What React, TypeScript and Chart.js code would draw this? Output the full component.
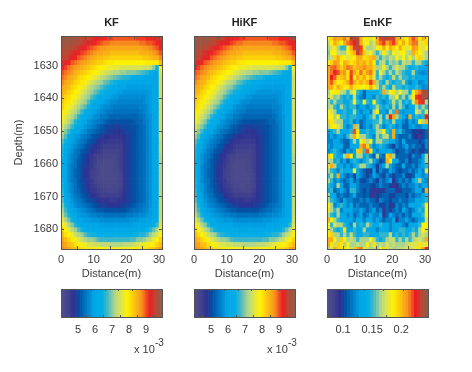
import React, { useEffect, useRef } from "react";
import { Chart, registerables } from "chart.js";
Chart.register(...registerables);

const distances = [0.5,1.5,2.5,3.5,4.5,5.5,6.5,7.5,8.5,9.5,10.5,11.5,12.5,13.5,14.5,15.5,16.5,17.5,18.5,19.5,20.5,21.5,22.5,23.5,24.5,25.5,26.5,27.5,28.5,29.5,30.5];
const depths = [1621.75,1623.25,1624.75,1626.25,1627.75,1629.25,1630.75,1632.25,1633.75,1635.25,1636.75,1638.25,1639.75,1641.25,1642.75,1644.25,1645.75,1647.25,1648.75,1650.25,1651.75,1653.25,1654.75,1656.25,1657.75,1659.25,1660.75,1662.25,1663.75,1665.25,1666.75,1668.25,1669.75,1671.25,1672.75,1674.25,1675.75,1677.25,1678.75,1680.25,1681.75,1683.25,1684.75,1686.25];
const distanceTicks = [0,10,20,30];
const depthTicks = [1630,1640,1650,1660,1670,1680];

// KF estimate, in units of 1e-4
const kfValues = [
[98,98,98,98,98,97,96,95,95,94,93,93,92,92,91,91,90,90,90,90,90,90,90,91,91,91,92,92,93,94,95],
[98,98,98,97,97,96,95,94,93,93,92,91,90,89,89,88,88,88,88,88,88,88,88,88,89,89,90,90,91,92,93],
[97,97,97,96,95,94,93,92,91,90,89,88,87,87,86,86,86,86,86,86,86,86,86,86,86,87,87,88,89,90,92],
[96,96,95,94,93,92,91,90,89,88,87,86,86,85,85,84,84,84,84,84,84,84,84,84,85,85,85,86,87,88,90],
[95,95,94,93,92,90,89,88,87,86,85,84,84,83,83,82,82,82,82,82,82,82,82,82,82,83,83,84,85,85,88],
[94,93,92,90,89,88,87,86,85,84,83,82,82,81,80,80,79,79,79,79,79,79,79,79,79,79,80,80,80,80,84],
[92,91,89,88,87,86,85,84,83,82,81,80,79,78,77,77,76,76,75,75,75,75,75,75,75,74,74,73,70,64,78],
[90,89,88,87,85,84,83,82,81,80,79,78,76,75,74,73,72,72,71,71,70,70,70,69,68,67,66,64,62,60,75],
[89,88,86,85,84,82,81,80,79,78,76,75,73,72,71,70,69,68,67,66,66,65,64,63,62,62,61,60,60,60,74],
[88,86,85,84,82,81,80,78,77,75,73,72,71,69,68,66,65,64,63,62,61,60,60,60,60,60,60,60,60,60,74],
[86,85,84,82,81,79,78,76,74,72,71,70,68,66,65,63,62,61,60,60,59,59,59,59,59,59,59,59,60,60,74],
[85,84,82,81,79,78,76,74,72,71,69,67,65,64,62,61,60,59,59,58,58,58,58,58,58,58,58,59,60,60,74],
[84,82,81,79,78,76,74,72,71,68,66,64,62,61,60,59,58,58,57,57,57,57,57,57,57,57,58,59,60,60,74],
[83,81,80,78,76,74,72,71,68,65,63,62,60,59,58,57,57,56,56,56,56,56,56,56,56,57,58,59,60,60,74],
[82,80,78,76,74,72,70,68,65,63,61,60,58,57,57,56,55,55,55,55,55,55,55,55,56,56,57,59,60,60,74],
[80,78,76,74,72,70,67,64,62,60,59,58,57,56,55,55,54,54,54,54,54,54,54,54,55,56,57,59,60,60,74],
[79,76,74,72,70,66,64,62,60,59,57,57,55,55,54,53,53,53,53,53,53,53,53,53,54,55,57,58,60,60,74],
[77,75,72,70,66,64,62,60,58,57,56,55,54,53,52,51,51,51,51,51,51,51,52,53,53,55,56,58,60,60,74],
[75,72,70,67,64,61,60,58,57,56,55,53,52,51,50,50,49,49,50,50,50,51,51,52,53,54,56,58,60,60,74],
[73,70,67,64,61,60,58,57,55,54,53,52,51,50,49,49,48,48,48,49,50,50,51,52,53,54,56,58,60,60,74],
[71,68,64,61,59,58,56,55,54,52,51,50,49,48,48,47,47,47,47,48,49,50,51,52,53,54,56,58,60,60,74],
[68,65,62,59,58,56,55,54,52,51,50,48,47,47,46,46,46,46,46,48,49,50,51,52,53,54,56,58,60,60,73],
[66,63,60,58,57,55,54,52,51,49,48,47,46,45,45,45,45,45,45,47,49,50,51,52,53,54,56,58,60,60,73],
[65,62,59,57,55,54,52,51,50,48,47,46,45,44,44,44,44,44,45,47,49,50,51,52,53,54,56,58,60,60,73],
[65,61,58,56,55,53,51,50,48,47,45,44,44,43,43,43,43,44,45,47,49,50,51,52,53,54,56,58,60,60,72],
[64,60,58,56,54,52,51,49,48,46,45,43,43,42,42,42,43,44,45,47,49,50,51,52,53,54,56,58,60,60,72],
[64,60,57,55,54,52,50,49,47,46,44,43,42,42,42,42,43,44,45,47,49,50,51,52,53,54,56,58,60,60,72],
[64,60,57,55,53,52,50,48,47,45,44,43,42,42,42,42,43,43,45,47,49,50,51,52,53,54,56,58,60,60,72],
[64,60,57,55,53,52,50,48,47,45,44,43,42,42,42,42,42,43,44,47,49,50,51,52,53,54,56,58,60,60,72],
[65,60,57,55,54,52,50,49,47,46,44,43,43,42,42,42,42,43,44,47,49,50,51,52,53,54,56,58,60,60,72],
[65,60,58,56,54,52,51,49,48,46,45,44,43,43,42,42,43,43,44,47,49,50,51,52,53,54,56,58,60,60,72],
[66,61,58,56,54,53,51,50,48,47,46,45,44,44,43,43,43,44,45,47,49,50,51,52,53,54,56,58,60,60,72],
[67,62,59,57,55,54,52,51,50,48,47,46,45,45,45,45,45,45,46,48,49,50,51,52,53,54,56,58,60,60,73],
[68,63,60,58,56,55,54,52,51,50,49,48,47,47,47,46,46,47,47,48,49,50,51,52,53,54,56,58,60,60,73],
[70,65,61,59,57,56,55,54,53,52,51,50,49,49,48,48,48,48,49,49,50,51,52,53,54,55,56,58,60,60,73],
[71,67,63,60,59,58,57,56,55,54,53,52,52,51,51,51,51,51,51,51,52,53,54,54,55,56,57,59,60,61,73],
[73,69,65,62,60,59,58,58,57,56,56,55,55,54,54,54,54,54,54,54,55,55,56,56,57,57,58,59,60,61,73],
[76,72,69,65,62,61,60,59,59,58,58,58,57,57,57,57,57,57,57,57,57,58,58,58,59,59,60,60,61,63,74],
[79,76,72,70,66,63,62,61,60,60,60,60,59,59,59,59,59,59,59,59,59,59,60,60,60,60,61,62,64,67,75],
[82,79,76,73,71,68,65,64,63,62,62,62,61,61,61,61,61,61,61,61,61,61,62,62,62,63,64,66,69,72,77],
[84,81,79,77,74,72,71,68,66,65,65,64,64,64,64,64,64,64,64,64,64,64,65,65,66,66,68,71,73,75,79],
[86,84,82,80,78,76,74,72,71,71,70,68,67,67,67,67,67,67,67,67,67,68,68,70,70,71,73,74,77,79,82],
[87,86,84,83,81,79,78,77,75,75,74,74,73,73,73,72,72,72,72,73,73,73,74,75,76,77,78,79,80,82,84],
[88,87,86,84,83,82,81,80,80,80,79,79,79,78,78,78,78,78,78,78,78,79,79,80,80,80,81,82,83,85,87],
];
const hikfValues = kfValues;

// EnKF estimate, in units of 1e-3
const enkfValues = [
[185,195,210,205,205,215,200,235,235,235,205,185,190,175,185,205,222,235,235,222,235,205,205,195,185,205,220,210,185,205,190],
[170,185,205,195,185,205,215,220,225,235,205,180,185,165,175,205,215,222,205,215,222,205,190,205,185,205,215,215,175,190,195],
[165,175,190,165,150,150,185,205,222,235,222,190,165,165,170,185,190,205,185,205,195,185,205,190,175,190,210,205,190,175,185],
[160,185,185,170,165,165,185,195,205,232,218,195,175,185,165,150,165,185,170,160,185,175,185,185,170,165,205,195,185,175,165],
[165,170,195,205,190,185,175,190,185,205,205,190,195,200,205,165,150,165,160,170,165,185,170,185,165,185,165,190,195,175,165],
[185,195,210,205,185,205,200,190,195,205,200,205,195,205,185,150,165,170,150,165,160,165,150,170,165,165,150,165,165,150,140],
[205,215,218,210,195,205,215,212,200,205,205,212,205,205,195,165,165,185,165,150,165,175,165,165,150,135,145,150,135,135,130],
[205,215,225,220,205,210,190,220,205,195,215,195,210,215,190,150,185,165,150,165,150,170,160,150,135,140,165,135,125,120,125],
[205,225,218,195,200,205,190,222,185,205,195,205,190,205,175,150,165,150,135,150,170,150,165,150,150,135,150,135,140,130,130],
[205,218,200,185,190,195,205,220,205,195,205,195,205,222,205,165,150,135,165,150,135,150,150,165,135,120,135,145,120,125,135],
[205,205,190,205,195,185,190,205,190,190,185,185,190,205,185,170,150,165,150,135,165,150,150,135,150,135,130,150,135,120,125],
[165,185,185,190,170,165,150,170,185,150,135,110,135,135,140,135,150,205,165,185,190,165,185,165,165,135,185,205,215,238,238],
[175,175,160,165,150,135,150,135,170,135,120,110,135,135,120,150,135,150,135,165,165,185,150,165,135,165,185,222,228,240,240],
[165,150,165,150,150,135,135,150,185,150,135,185,150,135,185,150,135,120,135,150,170,150,165,135,150,135,175,212,222,230,165],
[165,170,150,135,165,150,135,150,150,120,135,135,120,135,150,165,150,135,150,135,165,135,165,150,120,135,135,165,150,165,150],
[185,175,165,135,135,150,135,135,165,135,120,135,135,120,165,185,135,135,120,165,150,215,135,125,135,135,135,175,165,150,175],
[185,185,165,185,150,150,135,150,150,135,135,120,135,150,165,135,165,125,165,225,205,165,150,135,120,205,135,150,135,150,225],
[195,190,170,165,165,135,135,150,120,135,110,120,135,135,150,150,165,135,150,135,165,135,135,120,110,135,120,135,185,165,205],
[165,190,185,175,165,135,120,135,205,165,110,120,135,120,150,165,150,120,135,150,135,120,135,110,110,125,135,120,120,135,135],
[135,135,150,165,135,135,135,150,220,190,135,135,150,135,135,165,165,185,150,135,205,135,150,120,110,110,100,100,95,100,110],
[120,135,120,135,135,120,150,165,205,185,165,165,150,135,120,165,150,165,170,135,205,120,110,110,110,120,100,95,90,100,110],
[120,120,135,135,120,110,110,135,165,135,185,195,165,185,135,165,165,150,150,135,135,120,110,135,110,110,110,110,100,110,120],
[135,120,135,135,135,110,110,135,135,135,205,215,195,150,120,135,150,135,120,110,100,120,110,120,135,110,120,110,110,100,120],
[120,135,150,135,120,110,135,120,135,195,200,150,220,185,135,120,135,135,135,135,120,100,110,110,120,110,100,110,100,100,110],
[195,185,150,135,135,165,205,185,135,165,165,135,150,120,110,165,120,110,195,205,165,110,110,110,110,100,120,110,110,135,165],
[165,165,135,150,120,135,110,135,150,135,120,135,150,165,135,120,100,110,205,185,135,135,110,110,120,100,110,110,120,135,165],
[175,205,165,135,135,120,135,120,135,150,165,165,150,135,120,100,120,135,165,135,120,110,110,135,110,110,120,110,125,135,150],
[165,150,135,120,150,135,135,135,185,135,120,110,100,100,135,100,120,110,110,135,120,110,100,110,110,120,110,120,135,120,175],
[150,165,135,205,135,120,110,120,100,135,120,110,100,110,135,120,110,100,120,110,100,110,110,120,100,100,110,135,135,120,135],
[165,150,120,135,120,110,120,135,110,120,105,100,110,120,110,100,120,110,120,135,95,110,120,110,120,110,135,150,165,135,120],
[150,135,120,165,135,110,110,135,135,120,110,110,110,105,100,110,120,110,110,100,92,95,110,120,110,120,120,135,120,135,135],
[135,150,110,120,135,120,110,150,150,120,110,100,110,100,92,92,100,92,110,110,110,92,100,110,110,110,120,135,135,110,205],
[165,135,135,110,120,110,110,120,135,110,110,105,110,92,90,100,105,110,110,100,100,110,110,110,100,120,110,120,120,135,150],
[165,150,135,120,110,135,120,120,110,110,120,110,120,110,110,100,120,110,110,100,110,110,120,110,110,120,120,135,135,135,150],
[185,165,120,135,150,135,120,135,110,120,110,110,110,120,110,110,100,100,110,92,100,120,110,120,110,135,135,135,135,150,185],
[190,165,150,165,120,135,135,135,120,120,135,120,110,120,135,110,120,92,110,92,110,120,110,135,120,110,120,135,150,135,185],
[165,150,135,165,135,135,120,135,110,120,135,110,120,135,120,120,135,92,110,135,120,110,120,110,120,110,135,135,135,150,185],
[205,185,165,150,135,135,135,135,120,135,135,120,135,135,120,135,120,110,120,120,135,92,120,120,135,120,110,120,135,135,175],
[185,150,175,165,165,150,135,120,165,135,150,135,165,150,135,135,150,135,135,120,135,135,135,120,110,135,135,135,150,185,185],
[190,165,150,135,150,190,135,135,150,135,135,165,135,135,135,120,135,135,135,120,135,135,150,150,135,135,150,135,165,185,175],
[190,195,165,165,150,165,150,170,150,135,135,150,150,135,135,135,150,150,150,170,135,150,135,150,135,150,165,150,165,175,165],
[205,205,185,165,195,185,165,170,165,150,165,165,165,185,165,150,135,150,165,170,170,150,165,150,165,150,165,170,175,165,205],
[205,190,170,195,190,165,185,165,165,170,165,165,185,165,190,165,170,165,175,165,170,165,165,165,170,175,175,175,190,175,190],
[165,175,205,195,190,190,185,170,195,205,215,185,170,165,170,165,185,195,175,170,165,165,170,170,180,175,175,185,190,205,225],
];

const kfLevels = [40,41,42,43,44,45,46,47,48,49,50,51,52,53,54,55,56,57,58,59,60,61,62,63,64,65,66,67,68,69,70,71,72,73,74,75,76,77,78,79,80,81,82,83,84,85,86,87,88,89,90,91,92,93,94,95,96,97,98,99];
const enkfLevels = [75,80,85,90,95,100,105,110,115,120,125,130,135,140,145,150,155,160,165,170,175,180,185,190,195,200,205,210,215,220,225,230,235,240,245];
const kfBarTicks = [50,60,70,80,90];
const kfBarLabels = ["5","6","7","8","9"];
const enkfBarTicks = [100,150,200];
const enkfBarLabels = ["0.1","0.15","0.2"];

const paletteStops: [number, number, number, number][] = [
  [0.0, 78, 78, 140],
  [0.06, 70, 70, 140],
  [0.13, 46, 49, 146],
  [0.19, 0, 84, 166],
  [0.26, 0, 125, 200],
  [0.33, 0, 165, 230],
  [0.41, 0, 174, 230],
  [0.47, 80, 185, 190],
  [0.54, 180, 215, 135],
  [0.6, 225, 230, 70],
  [0.66, 255, 242, 0],
  [0.8, 247, 148, 29],
  [0.88, 237, 28, 36],
  [0.93, 190, 70, 50],
  [1.0, 140, 94, 75],
];
const colorOf = (v: number, lo: number, hi: number) => {
  const f = Math.min(1, Math.max(0, (v - lo) / (hi - lo)));
  for (let i = 1; i < paletteStops.length; i++) {
    const a = paletteStops[i - 1], b = paletteStops[i];
    if (f <= b[0]) {
      const t = (f - a[0]) / (b[0] - a[0]);
      return `rgb(${a[1] + (b[1] - a[1]) * t},${a[2] + (b[2] - a[2]) * t},${a[3] + (b[3] - a[3]) * t})`;
    }
  }
  return "rgb(140,94,75)";
};

const FONT = "'Liberation Sans', Arial, sans-serif";
const INK = "#3a3a3a";
const EDGE = "#555555";
const font = { family: FONT, size: 11 };

const frameAxis = (axis: string, position: string, min: number, max: number, tickList: number[]) => ({
  type: "linear",
  axis,
  position,
  min,
  max,
  afterBuildTicks: (s: any) => { s.ticks = tickList.map((value) => ({ value })); },
  afterFit: (s: any) => { if (axis === "x") s.height = 0; else s.width = 0; },
  ticks: { display: false },
  border: { display: true, color: EDGE, width: 1, z: 3 },
  grid: { drawOnChartArea: false, drawTicks: true, tickLength: -3, color: EDGE, z: 3 },
});

function makeHeat(canvas: HTMLCanvasElement, title: string, grid: number[][], lo: number, hi: number, showY: boolean) {
  const data: any[] = [];
  const colors: string[] = [];
  grid.forEach((row, r) => row.forEach((v, c) => {
    data.push({ x: distances[c], y: [depths[r] - 0.75, depths[r] + 0.75] });
    colors.push(colorOf(v, lo, hi));
  }));
  return new Chart(canvas, {
    type: "bar",
    data: { datasets: [{ data, backgroundColor: colors, borderWidth: 0, grouped: false, barPercentage: 1, categoryPercentage: 1 }] },
    options: {
      animation: false,
      responsive: false,
      layout: { padding: { left: 0, right: 50, top: 0, bottom: 0 } },
      plugins: {
        legend: { display: false },
        tooltip: { enabled: false },
        title: { display: true, fullSize: false, text: title, color: "#222", font: { family: FONT, size: 11, weight: "bold", lineHeight: "14px" }, padding: { top: 6, bottom: 6 } },
      },
      scales: {
        x: {
          type: "linear", offset: false, min: 0, max: 30.9,
          afterBuildTicks: (s: any) => { s.ticks = distanceTicks.map((value) => ({ value })); },
          afterFit: (s: any) => { s.height = 32; },
          ticks: { color: INK, font, padding: 7, maxRotation: 0, autoSkip: false },
          title: { display: true, text: "Distance(m)", color: INK, font, padding: { top: 1, bottom: 0 } },
          border: { color: EDGE, z: 3 },
          grid: { drawOnChartArea: false, tickLength: -3, color: EDGE, z: 3 },
        },
        y: {
          type: "linear", reverse: true, min: 1621, max: 1686,
          afterBuildTicks: (s: any) => { s.ticks = depthTicks.map((value) => ({ value })); },
          afterFit: (s: any) => { s.width = 50; },
          ticks: { display: showY, color: INK, font, padding: 6, autoSkip: false, callback: (v: any) => String(v) },
          title: { display: showY, text: "Depth(m)", color: INK, font, padding: { top: 1, bottom: 0 } },
          border: { color: EDGE, z: 3 },
          grid: { drawOnChartArea: false, tickLength: -3, color: EDGE, z: 3 },
        },
        x2: frameAxis("x", "top", 0, 30.9, distanceTicks),
        y2: { ...frameAxis("y", "right", 1621, 1686, depthTicks), reverse: true },
      },
    } as any,
  });
}

function makeBar(canvas: HTMLCanvasElement, levels: number[], lo: number, hi: number, tickList: number[], labels: string[]) {
  const data = levels.map((x) => ({ x, y: [0, 1] }));
  return new Chart(canvas, {
    type: "bar",
    data: { datasets: [{ data, backgroundColor: levels.map((v) => colorOf(v, lo, hi)), borderWidth: 0, grouped: false, barPercentage: 1, categoryPercentage: 1 }] },
    options: {
      animation: false,
      responsive: false,
      layout: { padding: { left: 50, right: 50, top: 10, bottom: 0 } },
      plugins: { legend: { display: false }, tooltip: { enabled: false }, title: { display: false } },
      scales: {
        x: {
          type: "linear", offset: false, min: lo, max: hi,
          afterBuildTicks: (s: any) => { s.ticks = tickList.map((value) => ({ value })); },
          afterFit: (s: any) => { s.height = 24; },
          ticks: { color: INK, font, padding: 8, maxRotation: 0, autoSkip: false, callback: (v: any) => labels[tickList.indexOf(v)] },
          border: { color: EDGE, z: 3 },
          grid: { drawOnChartArea: false, tickLength: -2, color: EDGE, z: 3 },
        },
        y: {
          type: "linear", min: 0, max: 1,
          afterFit: (s: any) => { s.width = 0; },
          afterBuildTicks: (s: any) => { s.ticks = []; },
          ticks: { display: false },
          border: { color: EDGE, z: 3 },
          grid: { drawOnChartArea: false, drawTicks: false },
        },
        x2: { ...frameAxis("x", "top", lo, hi, tickList), grid: { drawOnChartArea: false, tickLength: -2, color: EDGE, z: 3 } },
        y2: frameAxis("y", "right", 0, 1, []),
      },
    } as any,
  });
}

const abs = (left: number, top: number, width: number, height: number): React.CSSProperties => ({ position: "absolute", left, top, width, height, display: "block" });
const textStyle = (left: number, top: number, size: number): React.CSSProperties => ({ position: "absolute", left, top, fontFamily: FONT, fontSize: size, color: INK, lineHeight: "12px", whiteSpace: "nowrap" });

export default function App() {
  const refs = [useRef<HTMLCanvasElement>(null), useRef<HTMLCanvasElement>(null), useRef<HTMLCanvasElement>(null), useRef<HTMLCanvasElement>(null), useRef<HTMLCanvasElement>(null), useRef<HTMLCanvasElement>(null)];
  useEffect(() => {
    const charts = [
      makeHeat(refs[0].current!, "KF", kfValues, 40, 99.4, true),
      makeHeat(refs[1].current!, "HiKF", hikfValues, 40, 99.4, false),
      makeHeat(refs[2].current!, "EnKF", enkfValues, 72.4, 246, false),
      makeBar(refs[3].current!, kfLevels, 40, 99.4, kfBarTicks, kfBarLabels),
      makeBar(refs[4].current!, kfLevels, 40, 99.4, kfBarTicks, kfBarLabels),
      makeBar(refs[5].current!, enkfLevels, 72.4, 246, enkfBarTicks, enkfBarLabels),
    ];
    return () => charts.forEach((c) => c.destroy());
  }, []);
  const lefts = [61, 194, 327];
  return (
    <div style={{ position: "absolute", left: 0, top: 0, width: 472, height: 372, overflow: "hidden", background: "#fff" }}>
      {lefts.map((l, i) => <canvas key={"h" + i} ref={refs[i]} width={201} height={271} style={abs(l - 50, 10, 201, 271)} />)}
      {lefts.map((l, i) => <canvas key={"b" + i} ref={refs[i + 3]} width={201} height={62} style={abs(l - 50, 279, 201, 62)} />)}
      {[61, 194].map((l) => (
        <React.Fragment key={l}>
          <span style={textStyle(l + 73, 343, 11)}>x 10</span>
          <span style={textStyle(l + 94, 337, 10)}>-3</span>
        </React.Fragment>
      ))}
    </div>
  );
}
